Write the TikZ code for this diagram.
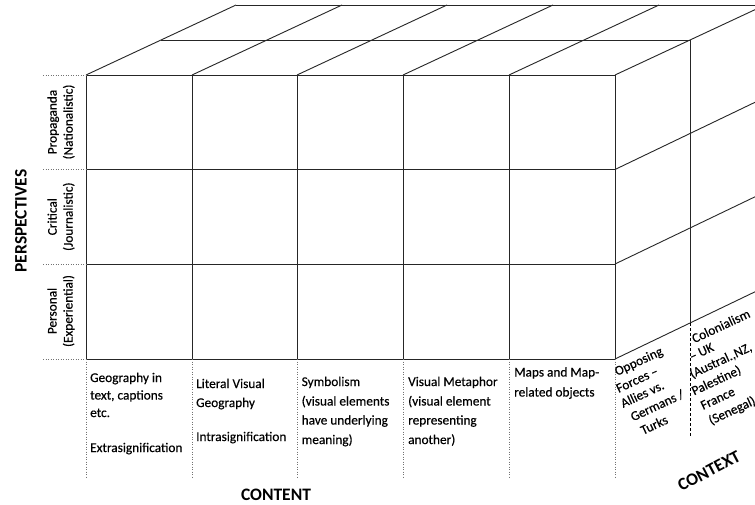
\documentclass[tikz,border=0pt]{standalone}
\usepackage{fontspec}
\setmainfont{Carlito}
\newfontfamily\bodyfont{Carlito}[FakeBold=0.35]
\begin{document}
\begin{tikzpicture}[x=1pt,y=-1pt,
  edge/.style={line width=0.9pt, black!85},
  guide/.style={line width=0.6pt, black!55, dash pattern=on 1pt off 1.5pt},
  sep/.style={line width=0.8pt, black, dash pattern=on 3pt off 2pt},
  txt/.style={inner sep=0pt, font=\bodyfont\fontsize{13.3}{16}\selectfont, anchor=base west},
  ctx/.style={txt, rotate=25},
  head/.style={inner sep=0pt, font=\fontsize{17.5}{20}\selectfont\bfseries},
  side/.style={inner sep=0pt, font=\bodyfont\fontsize{13.3}{16}\selectfont, align=center, rotate=90}]
\useasboundingbox (0,0) rectangle (755,504);
\fill[white] (0,0) rectangle (755,504);
\clip (0,0) rectangle (755,504);
% front face
\foreach \x in {86,192,297,403,509,615} \draw[edge] (\x,75) -- (\x,359);
\foreach \y in {75,169.5,264,359} \draw[edge] (86,\y) -- (615,\y);
% top face
\foreach \x in {86,192,297,403,509,615} \draw[edge] (\x,75) -- ++(150,-70);
\draw[edge] (161,40) -- (690,40);
\draw[edge] (236,5) -- (765,5);
% right face
\foreach \y in {169.5,264,359} \draw[edge] (615,\y) -- ++(150,-72);
\draw[edge] (690,40) -- (690,323);
% guides
\foreach \y in {75,169.5,264,359} \draw[guide] (43,\y) -- (86,\y);
\foreach \x in {86,192,297,403,509,615} \draw[guide] (\x,359) -- (\x,478);
\draw[sep] (690,323) -- (690,437);
% content labels
\node[txt] (c1a) at (90,382) {Geography in};
\node[txt] (c1b) at (90,399.5) {text, captions};
\node[txt] (c1c) at (90,417) {etc.};
\node[txt] (c1d) at (90,452) {Extrasignification};
\node[txt] (c2a) at (196,388) {Literal Visual};
\node[txt] (c2b) at (196,407) {Geography};
\node[txt] (c2c) at (196,441) {Intrasignification};
\node[txt] (c3a) at (301.5,386) {Symbolism};
\node[txt] (c3b) at (301.5,405.5) {(visual elements};
\node[txt] (c3c) at (301.5,424.5) {have underlying};
\node[txt] (c3d) at (301.5,444) {meaning)};
\node[txt] (c4a) at (408,386) {Visual Metaphor};
\node[txt] (c4b) at (408,405.5) {(visual element};
\node[txt] (c4c) at (408,424.5) {representing};
\node[txt] (c4d) at (408,444) {another)};
\node[txt] (c5a) at (514,376.5) {Maps and Map-};
\node[txt] (c5b) at (514,396.5) {related objects};
% context labels
\node[ctx] (o1) at (617,376) {Opposing};
\node[ctx] (o2) at (618.5,393) {Forces –};
\node[ctx] (o3) at (623,408) {Allies vs.};
\node[ctx] (o4) at (633,421.5) {Germans /};
\node[ctx] (o5) at (643,435) {Turks};
\node[ctx] (k1) at (694.3,343.3) {Colonialism};
\node[ctx] (k2) at (691.8,361) {– UK};
\node[ctx] (k3) at (692,378.5) {(Austral.,NZ,};
\node[ctx] (k4) at (694,395.5) {Palestine)};
\node[ctx] (k5) at (703,410) {France};
\node[ctx] (k6) at (711,425) {(Senegal)};
% perspective labels
\node[side] (p1) at (61,122) {Propaganda\\(Nationalistic)};
\node[side] (p2) at (61,216.7) {Critical\\(Journalistic)};
\node[side] (p3) at (61,311) {Personal\\(Experiential)};
% headings
\node[head, rotate=90] (persp) at (21,221) {PERSPECTIVES};
\node[head] (content) at (276,495) {CONTENT};
\node[head, rotate=28] (context) at (709,471) {CONTEXT};
\end{tikzpicture}
\end{document}
